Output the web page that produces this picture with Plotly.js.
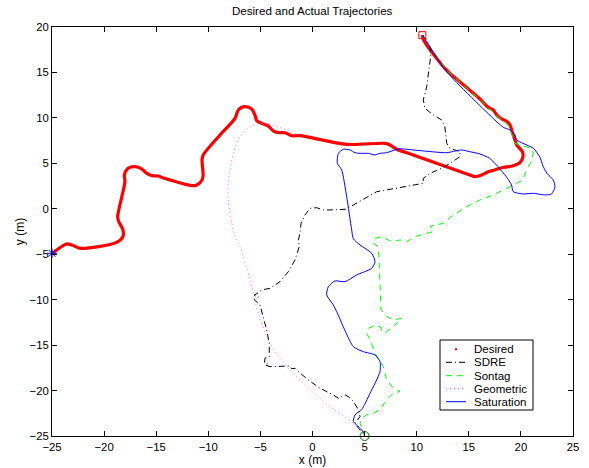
<!DOCTYPE html>
<html>
<head>
<meta charset="utf-8">
<script src="https://cdn.plot.ly/plotly-3.0.1.min.js"></script>
<style>
  html, body { margin: 0; padding: 0; background: #fff; }
  #plot { width: 589px; height: 468px; }
</style>
</head>
<body>
<div id="plot"></div>
<script>
// Desired path (x, y in metres)
const desiredX = [-24.97,-23.6,-23.1,-22.3,-18.8,-18.2,-18.2,-18.6,-18.7,-18.0,-18.06,-17.7,-17.0,-16.4,-15.9,-15.4,-14.8,-14.2,-11.6,-11.1,-10.6,-10.5,-10.6,-10.5,-8.88,-7.44,-7.12,-6.48,-5.84,-5.52,-5.36,-4.88,-4.24,-3.76,-3.28,-2.64,-2.0,-1.2,3.28,6.96,7.44,8.08,9.67,15.1,15.6,16.24,16.87,17.5,18.16,19.27,19.9,20.2,20.14,19.6,19.37,19.21,18.95,18.6,18.16,17.7,17.35,16.87,16.07,13.2,12.7,10.96,10.6,10.54];
const desiredY = [-4.9,-3.87,-3.98,-4.35,-3.7,-3.07,-2.3,-1.4,-0.87,2.98,3.7,4.45,4.63,4.38,3.9,3.65,3.6,3.35,2.55,2.62,3.17,3.7,5.37,5.9,8.12,9.95,10.87,11.23,10.98,10.3,9.7,9.4,9.1,8.56,8.37,8.37,8.04,8.04,7.09,7.2,7.02,6.55,5.92,3.72,3.53,3.72,4.08,4.27,4.52,4.74,5.07,5.73,6.28,7.02,7.75,8.3,9.22,9.66,9.88,10.3,10.87,11.16,12.08,14.9,15.45,18.0,18.75,19.1];

// SDRE controller
const sdreX = [10.54,10.96,11.28,11.34,10.96,10.63,10.8,11.59,12.4,12.7,12.88,13.2,14.15,14.15,13.2,12.4,11.28,10.63,10.63,8.4,6.16,3.92,3.12,1.68,1.04,0.4,-0.24,-0.72,-1.1,-1.2,-1.36,-1.27,-1.68,-2.32,-3.12,-4.08,-4.88,-5.3,-5.6,-5.2,-5.6,-5.04,-4.72,-4.4,-4.15,-4.15,-4.56,-4.6,-4.3,-4.56,-4.08,-2.8,-2.2,-2.0,-1.68,-1.36,-0.4,0.72,2.0,2.48,3.12,3.44,3.92,4.4,4.56,4.08,4.4,4.88,5.0];
const sdreY = [19.1,18.57,17.83,16.73,13.43,11.97,11.05,10.32,9.77,9.03,7.2,6.65,6.28,5.73,5.0,4.46,3.9,3.35,2.8,2.3,1.88,0.42,-0.06,-0.13,-0.13,0.12,0.05,-0.68,-1.6,-2.7,-3.43,-4.17,-5.63,-6.92,-8.02,-8.75,-8.93,-9.3,-9.5,-9.7,-10.0,-10.58,-11.87,-13.33,-14.8,-16.27,-16.45,-16.9,-17.0,-17.18,-17.37,-17.37,-17.3,-17.6,-17.55,-17.92,-18.83,-19.75,-20.48,-20.85,-20.48,-20.67,-21.2,-22.1,-22.87,-23.6,-24.15,-24.7,-25.0];

// Sontag controller
const sontagX = [10.54,10.7,12.9,16.2,17.5,18.3,18.9,19.2,19.43,19.9,21.0,21.2,20.9,20.4,20.2,19.6,18.95,17.35,16.07,14.8,13.5,12.55,11.3,11.6,9.84,9.04,8.4,7.6,6.64,6.0,5.84,6.32,6.48,6.57,7.12,7.75,8.56,8.08,7.12,6.8,6.48,5.84,5.36,5.2,5.52,6.0,6.8,7.12,7.75,8.4,7.75,7.12,6.48,5.84,5.2,4.72,4.56,4.88,5.0];
const sontagY = [19.1,18.8,15.2,11.9,10.4,9.7,9.0,8.0,7.2,7.02,6.65,6.1,5.0,3.9,3.17,2.8,2.43,1.52,0.97,0.23,-0.68,-1.6,-1.9,-2.5,-3.07,-3.62,-3.43,-3.62,-3.07,-3.25,-3.8,-4.17,-8.2,-11.1,-11.87,-12.23,-12.05,-12.6,-13.52,-13.7,-12.97,-12.9,-13.15,-13.7,-14.43,-15.9,-17.37,-18.83,-19.75,-20.1,-20.3,-21.03,-22.1,-22.5,-22.67,-23.05,-23.6,-24.7,-25.0];

// Geometric controller
const geomX = [-1.2,-2.48,-4.4,-5.2,-6.0,-6.96,-7.6,-8.08,-8.08,-7.8,-7.44,-6.96,-6.0,-5.2,-4.08,-2.48,-0.88,1.68,3.92,5.0];
const geomY = [8.1,8.67,9.4,9.33,9.03,7.93,6.1,2.8,0.97,-1.2,-3.07,-4.17,-7.83,-11.5,-14.8,-17.37,-19.2,-21.77,-23.6,-25.0];

// Saturation controller
const satX = [10.54,10.6,12.88,17.5,18.3,18.95,19.43,19.6,20.2,21.2,21.8,22.15,22.5,23.1,23.27,22.95,22.3,21.2,20.2,19.27,19.1,18.6,17.8,17.0,16.07,15.1,14.3,13.7,12.88,10.3,8.4,8.08,7.12,6.48,6.0,5.36,4.56,4.08,3.6,2.96,2.48,2.38,2.8,3.28,3.76,3.92,4.56,5.68,6.0,5.68,4.24,3.12,2.16,1.52,1.36,2.0,2.32,3.92,4.88,6.0,6.48,6.48,5.52,4.72,4.08,3.92,4.24,4.72,5.04];
const satY = [19.1,19.0,15.08,9.77,8.97,8.67,8.12,7.57,7.2,6.65,5.73,4.63,3.9,3.17,2.43,1.63,1.52,1.7,1.63,1.88,2.62,3.53,4.63,5.55,6.03,6.28,6.47,6.36,6.17,6.4,6.6,6.55,6.17,6.1,5.92,6.1,6.1,6.17,6.47,6.55,6.1,5.0,4.27,1.33,-2.33,-3.3,-3.98,-4.9,-5.82,-6.55,-7.28,-8.02,-7.94,-8.57,-9.48,-10.58,-11.32,-15.17,-15.72,-16.08,-16.82,-17.92,-20.3,-22.1,-22.67,-23.4,-23.78,-24.33,-24.77];

// Markers at start and end points
const startPt = [10.54, 19.1];
const goalPt = [-25, -4.9];
const finalPt = [5, -25];

const tickVals = [-25, -20, -15, -10, -5, 0, 5, 10, 15, 20, 25];
const legendNames = ['Desired', 'SDRE', 'Sontag', 'Geometric', 'Saturation'];

const FONT = 'Liberation Sans, Arial, sans-serif';

const styles = {
  Desired:    { color: '#ff0000', width: 3.2, dash: 'solid' },
  SDRE:       { color: '#000000', width: 1, dash: '6px,3px,1px,3px' },
  Sontag:     { color: '#00ff00', width: 1, dash: '6px,5px' },
  Geometric:  { color: '#ff55ff', width: 1, dash: '1px,3px' },
  Saturation: { color: '#0000ff', width: 1, dash: 'solid' }
};

const traces = [
  { x: desiredX, y: desiredY, mode: 'lines', name: 'Desired',
    line: { color: styles.Desired.color, width: styles.Desired.width, shape: 'spline', smoothing: 0.8 } },
  { x: sdreX, y: sdreY, mode: 'lines', name: 'SDRE',
    line: { color: styles.SDRE.color, width: 1, dash: styles.SDRE.dash } },
  { x: sontagX, y: sontagY, mode: 'lines', name: 'Sontag',
    line: { color: styles.Sontag.color, width: 1, dash: styles.Sontag.dash } },
  { x: geomX, y: geomY, mode: 'lines', name: 'Geometric',
    line: { color: styles.Geometric.color, width: 1, dash: styles.Geometric.dash, shape: 'spline', smoothing: 0.9 } },
  { x: satX, y: satY, mode: 'lines', name: 'Saturation',
    line: { color: styles.Saturation.color, width: 1, shape: 'spline', smoothing: 0.6 } },
  { x: [startPt[0]], y: [startPt[1]], mode: 'markers', cliponaxis: false,
    marker: { symbol: 'square-open', size: 7, color: '#ff0000', line: { width: 1 } } },
  { x: [goalPt[0]], y: [goalPt[1]], mode: 'markers', cliponaxis: false,
    marker: { symbol: 'asterisk-open', size: 8, color: '#0000ff', line: { width: 1, color: '#0000ff' } } },
  { x: [finalPt[0]], y: [finalPt[1]], mode: 'markers', cliponaxis: false,
    marker: { symbol: 'circle-open', size: 9, color: '#008000', line: { width: 1 } } }
];

// Compact boxed legend (paper coordinates), rows about 13 px apart
const plotL = 52, plotW = 521, plotB = 436, plotH = 409;
const px2x = p => (p - plotL) / plotW;
const py2y = p => (plotB - p) / plotH;
const box = { x0: 440, x1: 533, y0: 340, y1: 410 };
const rowY = [349.3, 362.3, 375.7, 388.7, 401.7];
const sampleX0 = 446, sampleX1 = 466, textX = 472;

const shapes = [{
  type: 'rect', xref: 'paper', yref: 'paper',
  x0: px2x(box.x0), x1: px2x(box.x1), y0: py2y(box.y1), y1: py2y(box.y0),
  fillcolor: '#fff', line: { color: '#000', width: 1 }
}];
const annotations = [];
legendNames.forEach((name, i) => {
  const st = styles[name];
  const yy = py2y(rowY[i]);
  if (name === 'Desired') {
    const c = (sampleX0 + sampleX1) / 2;
    shapes.push({ type: 'rect', xref: 'paper', yref: 'paper',
      x0: px2x(c - 1), x1: px2x(c + 1), y0: py2y(rowY[i] + 1), y1: py2y(rowY[i] - 1),
      fillcolor: st.color, line: { width: 0 } });
  } else {
    shapes.push({ type: 'line', xref: 'paper', yref: 'paper',
      x0: px2x(sampleX0), x1: px2x(sampleX1), y0: yy, y1: yy,
      line: { color: st.color, width: st.width, dash: st.dash } });
  }
  annotations.push({ xref: 'paper', yref: 'paper', x: px2x(textX), y: yy,
    xanchor: 'left', yanchor: 'middle', showarrow: false, text: name,
    font: { family: FONT, size: 11.5, color: '#000' } });
});

const axisCommon = {
  showgrid: false, zeroline: false,
  showline: true, linecolor: '#000', linewidth: 1, mirror: 'ticks',
  ticks: 'inside', ticklen: 5, tickcolor: '#000', tickwidth: 1,
  tickfont: { family: FONT, size: 11.3, color: '#000' },
  automargin: false
};
const fmt = v => v < 0 ? '\u2212' + (-v) : String(v);

const layout = {
  width: 589, height: 468,
  margin: { l: 52, r: 16, t: 27, b: 32 },
  paper_bgcolor: '#fff', plot_bgcolor: '#fff',
  font: { family: FONT, size: 11, color: '#000' },
  showlegend: false,
  title: { text: 'Desired and Actual Trajectories', font: { size: 11.6 },
           x: 0.53, xanchor: 'center', y: 0.976, yanchor: 'middle', yref: 'container' },
  xaxis: Object.assign({}, axisCommon, {
    range: [-25, 25], tickvals: tickVals, ticktext: tickVals.map(fmt),
    title: { text: 'x (m)', font: { size: 12 }, standoff: 2 }
  }),
  yaxis: Object.assign({}, axisCommon, {
    range: [-25, 20], tickvals: tickVals.slice(0, 10), ticktext: tickVals.slice(0, 10).map(fmt),
    title: { text: 'y (m)', font: { size: 12 }, standoff: 2 }
  }),
  shapes: shapes,
  annotations: annotations
};

Plotly.newPlot('plot', traces, layout, { staticPlot: true, displayModeBar: false });
</script>
</body>
</html>
